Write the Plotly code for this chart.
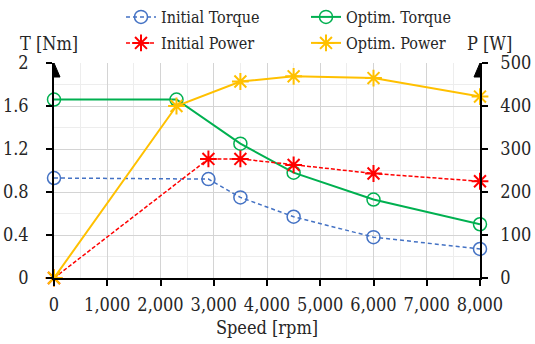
import plotly.graph_objects as go

# ---- data ----
speed_initial = [0, 2900, 3500, 4500, 6000, 8000]
speed_optim = [0, 2300, 3500, 4500, 6000, 8000]
torque_initial = [0.93, 0.92, 0.75, 0.57, 0.38, 0.27]
torque_optim = [1.66, 1.66, 1.25, 0.98, 0.73, 0.50]
power_initial = [0, 277, 277, 263, 243, 225]
power_optim = [0, 400, 457, 469, 465, 422]

x_ticks = [0, 1000, 2000, 3000, 4000, 5000, 6000, 7000, 8000]
x_labels = ["0", "1,000", "2,000", "3,000", "4,000", "5,000", "6,000", "7,000", "8,000"]
t_ticks = [0, 0.4, 0.8, 1.2, 1.6, 2]
t_labels = ["0", "0.4", "0.8", "1.2", "1.6", "2"]
p_ticks = [0, 100, 200, 300, 400, 500]

BLUE = "#4472C4"
RED = "#FF0000"
GREEN = "#00B050"
YELLOW = "#FFC000"
FONT = "DejaVu Serif Condensed"
TXT = "#262626"

W, H = 535, 344
ML, MR, MT, MB = 54, 55, 63, 66

fig = go.Figure()

fig.add_trace(go.Scatter(
    x=speed_initial, y=torque_initial, name="Initial Torque", mode="lines+markers",
    line=dict(color=BLUE, width=1.5, dash="4px,3px"),
    marker=dict(symbol="circle-open", size=13, color=BLUE, line=dict(width=1.5)),
    cliponaxis=False, legend="legend", yaxis="y"))
fig.add_trace(go.Scatter(
    x=speed_optim, y=torque_optim, name="Optim. Torque", mode="lines+markers",
    line=dict(color=GREEN, width=2),
    marker=dict(symbol="circle-open", size=13, color=GREEN, line=dict(width=1.5)),
    cliponaxis=False, legend="legend", yaxis="y"))
fig.add_trace(go.Scatter(
    x=speed_initial, y=power_initial, name="Initial Power", mode="lines+markers",
    line=dict(color=RED, width=1.5, dash="4px,2px"),
    marker=dict(symbol="asterisk-open", size=14, color=RED, line=dict(width=2, color=RED)),
    cliponaxis=False, legend="legend2", yaxis="y2"))
fig.add_trace(go.Scatter(
    x=speed_optim, y=power_optim, name="Optim. Power", mode="lines+markers",
    line=dict(color=YELLOW, width=2),
    marker=dict(symbol="asterisk-open", size=14, color=YELLOW, line=dict(width=2, color=YELLOW)),
    cliponaxis=False, legend="legend2", yaxis="y2"))

tickfont = dict(family=FONT, size=18, color=TXT)

common_x = dict(range=[0, 8000], tickvals=x_ticks, automargin=False)

fig.update_layout(
    template="none",
    width=W, height=H,
    margin=dict(l=ML, r=MR, t=MT, b=MB, autoexpand=False),
    paper_bgcolor="white", plot_bgcolor="white",
    xaxis=dict(
        **common_x, ticktext=x_labels, tickfont=tickfont,
        showline=True, linecolor="black", linewidth=1.5,
        ticks="outside", ticklen=6, tickwidth=1.5, tickcolor="black",
        showgrid=True, gridcolor="#d4d4d4", gridwidth=1,
        minor=dict(dtick=500, showgrid=True, gridcolor="#ededed", gridwidth=1),
        zeroline=False, ticklabelstandoff=4,
        title=dict(text="Speed [rpm]", font=dict(family=FONT, size=18, color=TXT), standoff=7),
    ),
    xaxis2=dict(
        **common_x, overlaying="x", anchor="y", showticklabels=False,
        ticks="inside", ticklen=6, tickwidth=1.5, tickcolor="black",
        showgrid=False, showline=False, zeroline=False,
    ),
    yaxis=dict(
        range=[0, 2], tickvals=t_ticks, ticktext=t_labels, tickfont=tickfont,
        showline=True, linecolor="black", linewidth=1.5, automargin=False,
        ticks="outside", ticklen=6, tickwidth=1.5, tickcolor="black",
        showgrid=True, gridcolor="#d4d4d4", gridwidth=1,
        minor=dict(dtick=0.2, showgrid=True, gridcolor="#ededed", gridwidth=1),
        zeroline=False, ticklabelstandoff=14,
    ),
    yaxis2=dict(
        range=[0, 500], tickvals=p_ticks, tickfont=tickfont,
        overlaying="y", side="right", anchor="x", automargin=False,
        showline=True, linecolor="black", linewidth=1.5,
        ticks="outside", ticklen=6, tickwidth=1.5, tickcolor="black",
        showgrid=False, zeroline=False, ticklabelstandoff=9,
    ),
    yaxis3=dict(
        range=[0, 2], tickvals=t_ticks, overlaying="y", anchor="x", side="left",
        showticklabels=False, ticks="inside", ticklen=6, tickwidth=1.5, tickcolor="black",
        showgrid=False, showline=False, zeroline=False, automargin=False,
    ),
    yaxis4=dict(
        range=[0, 500], tickvals=p_ticks, overlaying="y", anchor="x", side="right",
        showticklabels=False, ticks="inside", ticklen=6, tickwidth=1.5, tickcolor="black",
        showgrid=False, showline=False, zeroline=False, automargin=False,
    ),
    legend=dict(
        orientation="h", xref="container", yref="container",
        x=121 / W, y=1 - 17 / H, xanchor="left", yanchor="middle",
        entrywidth=140, entrywidthmode="pixels",
        font=dict(family=FONT, size=16, color=TXT), bgcolor="rgba(0,0,0,0)",
        itemwidth=30, borderwidth=0,
    ),
    legend2=dict(
        orientation="h", xref="container", yref="container",
        x=121 / W, y=1 - 43 / H, xanchor="left", yanchor="middle",
        entrywidth=140, entrywidthmode="pixels",
        font=dict(family=FONT, size=16, color=TXT), bgcolor="rgba(0,0,0,0)",
        itemwidth=30, borderwidth=0,
    ),
    showlegend=True,
)

# arrowheads on the top of both value axes
for xa in (0, 8000):
    fig.add_shape(
        type="path", xref="x", yref="y", xsizemode="pixel", ysizemode="pixel",
        xanchor=xa, yanchor=2, path="M-6,-14 L6,-14 L0,0 Z",
        fillcolor="black", line=dict(color="black", width=1), layer="above",
    )

# axis titles
fig.add_annotation(text="T [Nm]", xref="paper", yref="paper",
                   x=(49 - ML) / (W - ML - MR), y=(H - MB - 43) / (H - MT - MB),
                   showarrow=False, font=dict(family=FONT, size=18, color=TXT),
                   xanchor="center", yanchor="middle")
fig.add_annotation(text="P [W]", xref="paper", yref="paper",
                   x=(489 - ML) / (W - ML - MR), y=(H - MB - 43) / (H - MT - MB),
                   showarrow=False, font=dict(family=FONT, size=18, color=TXT),
                   xanchor="center", yanchor="middle")

fig.write_html("out.html")
